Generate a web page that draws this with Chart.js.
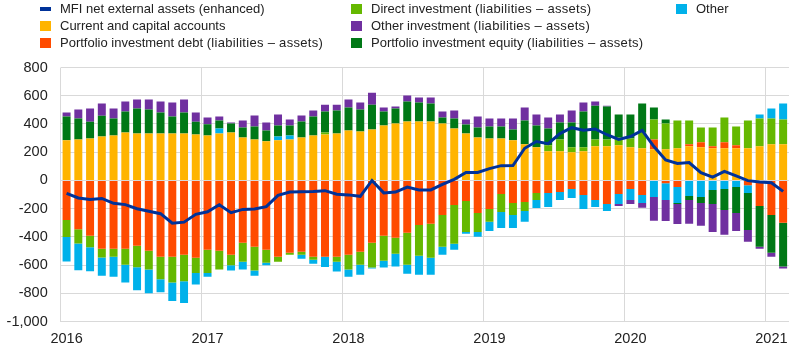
<!DOCTYPE html>
<html>
<head>
<meta charset="utf-8">
<script src="https://cdn.jsdelivr.net/npm/chart.js@4"></script>
<style>
html,body{margin:0;padding:0;background:#fff;}
#wrap{position:relative;width:803px;height:356px;overflow:hidden;font-family:"Liberation Sans",Arial,sans-serif;}
#c{position:absolute;left:0;top:0;}
.lg{position:absolute;font-size:13px;line-height:16px;height:16px;color:#222;white-space:nowrap;}
.lg span.t{position:absolute;left:20px;top:0;}
.lg span.b{position:absolute;left:0;top:3px;width:11px;height:10px;}
.lg span.l{position:absolute;left:0;top:6px;width:11px;height:4px;}
.lg em{font-style:normal;letter-spacing:0.3px;}
</style>
</head>
<body>
<div id="wrap">
<canvas id="c" width="803" height="356"></canvas>
<div class="lg" style="left:40px;top:0.5px"><span class="l" style="background:#003299"></span><span class="t">MFI net external assets (enhanced)</span></div>
<div class="lg" style="left:40px;top:17.6px"><span class="b" style="background:#FFB400"></span><span class="t">Current and capital accounts</span></div>
<div class="lg" style="left:40px;top:34.8px"><span class="b" style="background:#FF4B00"></span><span class="t">Portfolio investment debt <em>(liabilities – assets)</em></span></div>
<div class="lg" style="left:351px;top:0.5px"><span class="b" style="background:#65B800"></span><span class="t">Direct investment <em>(liabilities – assets)</em></span></div>
<div class="lg" style="left:351px;top:17.6px"><span class="b" style="background:#7030A0"></span><span class="t">Other investment <em>(liabilities – assets)</em></span></div>
<div class="lg" style="left:351px;top:34.8px"><span class="b" style="background:#007816"></span><span class="t">Portfolio investment equity <em>(liabilities – assets)</em></span></div>
<div class="lg" style="left:676px;top:0.5px"><span class="b" style="background:#00B1EA"></span><span class="t">Other</span></div>
</div>
<script>
// Monthly categories, Jan 2016 – Feb 2021
const categories = [
  '2016-01','2016-02','2016-03','2016-04','2016-05','2016-06','2016-07','2016-08','2016-09','2016-10','2016-11','2016-12',
  '2017-01','2017-02','2017-03','2017-04','2017-05','2017-06','2017-07','2017-08','2017-09','2017-10','2017-11','2017-12',
  '2018-01','2018-02','2018-03','2018-04','2018-05','2018-06','2018-07','2018-08','2018-09','2018-10','2018-11','2018-12',
  '2019-01','2019-02','2019-03','2019-04','2019-05','2019-06','2019-07','2019-08','2019-09','2019-10','2019-11','2019-12',
  '2020-01','2020-02','2020-03','2020-04','2020-05','2020-06','2020-07','2020-08','2020-09','2020-10','2020-11','2020-12',
  '2021-01','2021-02'
];
const yTicks = [-1000,-800,-600,-400,-200,0,200,400,600,800];

const currentCapital = [
  284,291,298,312,319,340,333,333,333,333,333,326,
  319,333,340,305,291,277,284,291,305,319,326,333,
  354,347,361,390,404,418,418,418,404,368,333,305,
  298,298,284,256,235,207,207,200,207,242,242,249,
  235,228,221,221,228,242,235,228,228,228,228,242,
  256,256
];
const portfolioDebt = [
  -279,-345,-392,-483,-483,-483,-462,-498,-540,-540,-526,-547,
  -491,-498,-526,-441,-469,-491,-540,-512,-505,-540,-540,-540,
  -526,-505,-441,-392,-406,-371,-315,-307,-244,-174,-146,-230,
  -202,-96,-160,-153,-89,-89,-82,-61,-103,-138,-167,-96,
  -61,-103,70,-19,-47,14,35,14,42,21,-33,-181,
  -244,-300
];
const directInvestment = [
  -122,-101,-80,-62,-57,-113,-153,-133,-159,-183,-187,-108,
  -164,-133,-75,-134,-169,-91,-35,-14,-21,-21,14,-35,
  -105,-91,-176,-176,-113,-225,-218,-240,-225,-274,-218,-134,
  -91,-127,-84,-63,-49,42,84,35,28,49,49,56,
  63,115,141,183,197,169,106,134,176,134,197,197,
  183,176
];
const otherFlows = [
  -172,-190,-171,-129,-141,-127,-162,-167,-92,-131,-155,-82,
  -26,35,-37,-56,-36,-19,28,28,-28,-28,-72,-70,
  -50,-71,-7,-49,-91,-64,-134,-120,-57,-43,-14,-35,
  -64,-113,-92,-77,-57,-99,-56,-63,-99,-50,-49,-71,
  -77,-56,-117,-120,-113,-110,-117,-68,-61,-47,-56,28,
  70,113
];
const portfolioEquity = [
  169,148,117,146,120,148,176,169,148,120,148,89,
  80,57,64,71,92,77,78,71,113,134,148,162,
  162,155,176,98,105,141,134,127,42,71,64,71,
  85,85,77,169,155,119,120,176,253,239,232,162,
  169,202,84,28,-7,-28,-42,-99,-148,-183,-261,-289,
  -268,-310
];
const otherInvestment = [
  28,63,94,87,70,71,64,71,78,99,92,66,
  47,28,7,49,77,57,77,42,42,42,49,42,
  57,50,85,28,14,42,35,42,42,56,35,77,
  56,56,78,91,77,78,56,84,64,29,7,-14,
  -29,-35,-169,-148,-141,-169,-162,-197,-176,-127,-84,-14,
  -28,-14
];
const mfiNetExternal = [
  -92,-124,-134,-127,-162,-171,-200,-218,-235,-302,-295,-240,
  -222,-172,-228,-205,-202,-185,-105,-82,-80,-78,-72,-97,
  -102,-112,0,-88,-82,-47,-67,-67,-28,8,57,57,
  84,105,106,228,276,261,332,374,356,365,324,291,
  311,355,240,145,121,127,55,24,64,32,-1,-10,
  -16,-77
];

const FONT = {family: '"Liberation Sans", Arial, sans-serif', size: 14.5};
const GRID = '#d9d9d9';

function bar(label, data, color) {
  return {type: 'bar', label, data, backgroundColor: color, borderWidth: 0,
          stack: 'flows', order: 1, barPercentage: 0.68, categoryPercentage: 1.0};
}

new Chart(document.getElementById('c'), {
  data: {
    labels: categories,
    datasets: [
      {type: 'line', label: 'MFI net external assets (enhanced)', data: mfiNetExternal,
       borderColor: '#003299', borderWidth: 3, pointRadius: 0, tension: 0,
       fill: false, stack: 'mfi', order: 0},
      bar('Current and capital accounts', currentCapital, '#FFB400'),
      bar('Portfolio investment debt (liabilities – assets)', portfolioDebt, '#FF4B00'),
      bar('Direct investment (liabilities – assets)', directInvestment, '#65B800'),
      bar('Other', otherFlows, '#00B1EA'),
      bar('Portfolio investment equity (liabilities – assets)', portfolioEquity, '#007816'),
      bar('Other investment (liabilities – assets)', otherInvestment, '#7030A0')
    ]
  },
  options: {
    responsive: false,
    animation: false,
    events: [],
    layout: {padding: {top: 67.5, right: 14, bottom: 0, left: 0}},
    plugins: {legend: {display: false}, tooltip: {enabled: false}, title: {display: false}},
    scales: {
      x: {
        type: 'category',
        stacked: true,
        offset: true,
        border: {display: false},
        grid: {
          offset: true,
          drawTicks: false,
          lineWidth: 1,
          color: (ctx) => (ctx.type === 'tick' && ctx.index % 12 === 0) ? GRID : 'rgba(0,0,0,0)'
        },
        ticks: {
          autoSkip: false, maxRotation: 0, minRotation: 0, padding: 9,
          color: '#222', font: FONT,
          callback: function(v, i) {
            const c = categories[i];
            return c.endsWith('-01') ? c.slice(0, 4) : '';
          }
        },
        afterFit: (s) => { s.height = 34.3; }
      },
      y: {
        stacked: true,
        min: -1000, max: 800,
        border: {display: false},
        grid: {color: GRID, lineWidth: 1, drawTicks: false},
        afterBuildTicks: (s) => { s.ticks = yTicks.map(v => ({value: v})); },
        ticks: {
          padding: 13, color: '#222', font: FONT,
          callback: (v) => Number(v).toLocaleString('en-US')
        },
        afterFit: (s) => { s.width = 60.7; }
      }
    }
  }
});
</script>
</body>
</html>
